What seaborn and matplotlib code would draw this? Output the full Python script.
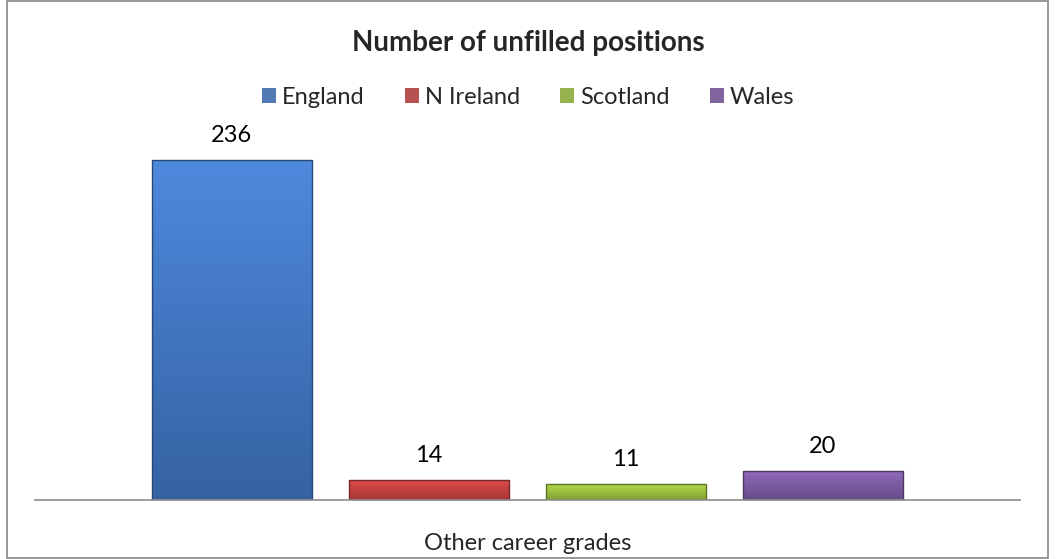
import numpy as np
import pandas as pd
import matplotlib
matplotlib.use("Agg")
import matplotlib.pyplot as plt
import matplotlib.colors as mcolors
import seaborn as sns

# Data
grade = ["Other career grades"] * 4
regions = ["England", "N Ireland", "Scotland", "Wales"]
positions = [236, 14, 11, 20]
colours = ["#4178C6", "#C9413F", "#9DC23E", "#7E5BA6"]

df = pd.DataFrame({"Grade": grade, "Region": regions, "Positions": positions})

sns.set_style("white")
plt.rcParams["font.family"] = ["Lato", "DejaVu Sans"]

fig = plt.figure(figsize=(10.56, 5.59), dpi=100)
ax = fig.add_axes([35 / 1056, 59 / 559, 985 / 1056, 375 / 559])

sns.barplot(data=df, x="Grade", y="Positions", hue="Region", palette=colours,
            width=0.8, gap=0.19, ax=ax, legend=True, edgecolor="none")

ax.set_ylim(0, 260)
ax.set_xlim(-0.5, 0.5)

# gradient shading on each bar (lighter top, darker bottom)
for patch, col in zip(ax.patches[:4], colours):
    x0, y0 = patch.get_x(), patch.get_y()
    w, h = patch.get_width(), patch.get_height()
    base = np.array(mcolors.to_rgb(col))
    top = np.clip(base * 1.08 + 0.03, 0, 1)
    bot = base * 0.82
    t = np.linspace(0, 1, 64)[:, None]
    grad = top * (1 - t) + bot * t
    img = np.repeat(grad[:, None, :], 2, axis=1)
    im = ax.imshow(img, extent=[x0, x0 + w, y0, y0 + h], aspect="auto",
                   origin="upper", zorder=patch.get_zorder() + 0.1)
    im.set_clip_path(patch)
    ax.add_patch(plt.Rectangle((x0, y0), w, h, fill=False,
                               edgecolor=tuple(base * 0.6), linewidth=1.0,
                               zorder=patch.get_zorder() + 0.2))

for cont in ax.containers:
    ax.bar_label(cont, padding=10, fontsize=17, color="black")

ax.set_xlabel("")
ax.set_ylabel("")
ax.set_yticks([])
ax.tick_params(axis="x", length=0, pad=24, labelsize=17)
for s in ["top", "left", "right"]:
    ax.spines[s].set_visible(False)
ax.spines["bottom"].set_color("#8C8C8C")
ax.spines["bottom"].set_linewidth(1.2)

handles, labels = ax.get_legend_handles_labels()
ax.get_legend().remove()
fig.legend(handles, labels, loc="center", bbox_to_anchor=(0.5, 1 - 97 / 559), ncol=4,
           frameon=False, fontsize=17, handlelength=0.6, handleheight=0.6,
           handletextpad=0.25, columnspacing=1.7)

fig.text(0.5, 1 - 43 / 559, "Number of unfilled positions", ha="center", va="center",
         fontsize=20, fontweight="bold")

# figure border
fig.patches.append(plt.Rectangle((7 / 1056, 1 / 559), 1041 / 1056, 557 / 559,
                                 transform=fig.transFigure, fill=False,
                                 edgecolor="#868686", linewidth=1.2))

fig.savefig("out.png", dpi=100)
